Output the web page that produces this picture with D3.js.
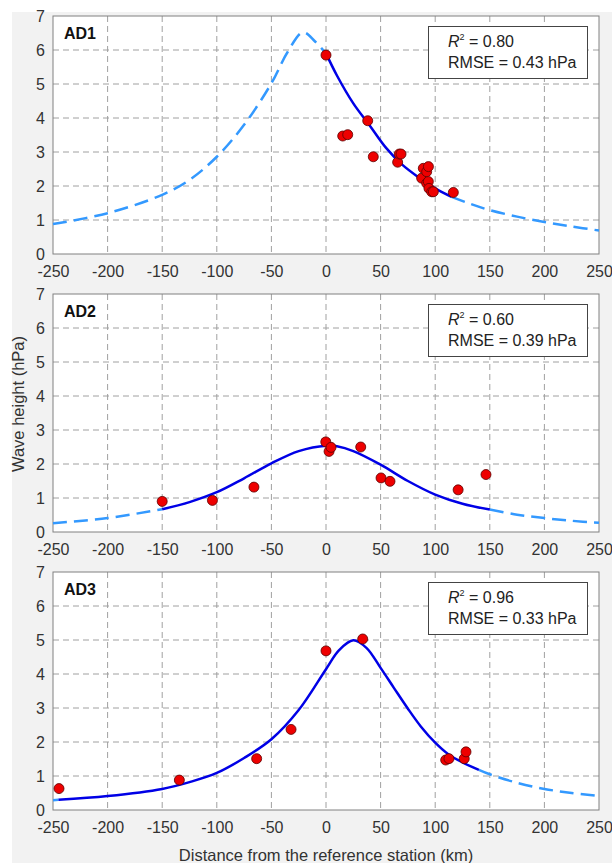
<!DOCTYPE html>
<html>
<head>
<meta charset="utf-8">
<script src="https://cdn.jsdelivr.net/npm/d3@7"></script>
<style>
  body { margin: 0; background: #fff; }
  text { font-family: "Liberation Sans", Arial, sans-serif; }
</style>
</head>
<body>
<div id="chart"></div>
<script>
// Panel names and fit stats
const panels = ['AD1', 'AD2', 'AD3']
const r2Values = ['0.80', '0.60', '0.96']
const rmseValues = ['0.43', '0.39', '0.33']

// Tick labels
const xTicks = [-250, -200, -150, -100, -50, 0, 50, 100, 150, 200, 250]
const yTicks = [0, 1, 2, 3, 4, 5, 6, 7]

// Observed points (distance km, wave height hPa)
const pointsAD1 = [
  [0, 5.85], [15.3, 3.47], [19.9, 3.51], [38.2, 3.92], [43.3, 2.86],
  [65.6, 2.70], [67.1, 2.94], [68.7, 2.94], [87.6, 2.23], [89.1, 2.52],
  [92.2, 2.08], [92.2, 2.42], [93.8, 2.57], [93.7, 2.13], [94.3, 1.93],
  [96.8, 1.83], [98.3, 1.83], [116.6, 1.81]
]
const pointsAD2 = [
  [-150, 0.90], [-104, 0.93], [-66, 1.32], [-0.2, 2.65], [2.8, 2.37],
  [4.6, 2.49], [31.8, 2.50], [50.4, 1.59], [58.6, 1.49], [121, 1.24],
  [146.5, 1.69]
]
const pointsAD3 = [
  [-244.5, 0.63], [-134.3, 0.88], [-63.5, 1.51], [-32, 2.37], [0, 4.68],
  [33.6, 5.03], [109.6, 1.47], [112.6, 1.51], [126.6, 1.51], [128.2, 1.71]
]

// Fitted curves
const curveAD1 = [
  [-250, 0.88], [-200, 1.20], [-150, 1.74], [-125, 2.18], [-100, 2.86],
  [-75, 3.80], [-50, 5.02], [-35, 5.95], [-21, 6.52], [-10, 6.25],
  [0, 5.90], [10, 5.25], [25, 4.43], [40, 3.78], [55, 3.12], [70, 2.62],
  [85, 2.25], [100, 1.93], [115, 1.68], [130, 1.50], [150, 1.29],
  [175, 1.10], [200, 0.94], [225, 0.81], [250, 0.69]
]
const curveAD2 = [
  [-250, 0.26], [-200, 0.41], [-150, 0.67], [-125, 0.88], [-100, 1.17],
  [-75, 1.58], [-50, 2.02], [-25, 2.38], [0, 2.54], [10, 2.52],
  [25, 2.38], [50, 1.98], [75, 1.50], [100, 1.10], [125, 0.83],
  [150, 0.66], [175, 0.51], [200, 0.41], [225, 0.33], [250, 0.27]
]
const curveAD3 = [
  [-250, 0.29], [-245, 0.30], [-200, 0.41], [-150, 0.62], [-125, 0.82],
  [-100, 1.09], [-75, 1.53], [-50, 2.08], [-25, 2.94], [0, 4.14],
  [12, 4.70], [25, 4.99], [37, 4.77], [50, 4.18], [62, 3.60], [75, 2.98],
  [87, 2.45], [100, 1.98], [112, 1.64], [125, 1.40], [140, 1.18],
  [150, 1.05], [175, 0.80], [200, 0.62], [225, 0.50], [250, 0.41]
]

// Range of distance where the fit is drawn solid
const solidRanges = [[0, 115], [-150, 150], [-245, 140]]

const pointSets = [pointsAD1, pointsAD2, pointsAD3]
const curveSets = [curveAD1, curveAD2, curveAD3]

// Layout
const W = 612
const H = 863
const plotLeft = 53
const plotRight = 599
const plotH = 238
const panelTops = [16, 294, 572]

const svg = d3.select('#chart')
  .append('svg')
  .attr('width', W)
  .attr('height', H)

// Figure background
svg.append('rect')
  .attr('x', 12).attr('y', 12)
  .attr('width', W - 12).attr('height', H - 12)
  .attr('fill', '#f2f2f2')

const x = d3.scaleLinear().domain([-250, 250]).range([plotLeft, plotRight])

const line = d3.line()
  .x(d => x(d[0]))
  .curve(d3.curveCatmullRom.alpha(0.5))

panels.forEach((name, i) => {
  const top = panelTops[i]
  const y = d3.scaleLinear().domain([0, 7]).range([top + plotH, top])
  line.y(d => y(d[1]))

  const g = svg.append('g')

  // Plot area
  g.append('rect')
    .attr('x', plotLeft).attr('y', top)
    .attr('width', plotRight - plotLeft).attr('height', plotH)
    .attr('fill', '#fff')

  // Grid
  g.selectAll('.vgrid')
    .data(xTicks.slice(1, -1))
    .enter().append('line')
    .attr('x1', d => x(d)).attr('x2', d => x(d))
    .attr('y1', top).attr('y2', top + plotH)
    .attr('stroke', '#a0a0a0')
    .attr('stroke-dasharray', '6,4')
  g.selectAll('.hgrid')
    .data(yTicks.slice(1, -1))
    .enter().append('line')
    .attr('x1', plotLeft).attr('x2', plotRight)
    .attr('y1', d => y(d)).attr('y2', d => y(d))
    .attr('stroke', '#a0a0a0')
    .attr('stroke-dasharray', '6,4')

  // Box
  g.append('rect')
    .attr('x', plotLeft).attr('y', top)
    .attr('width', plotRight - plotLeft).attr('height', plotH)
    .attr('fill', 'none')
    .attr('stroke', '#808080')

  // Axes
  const xAxis = g.append('g')
    .attr('transform', `translate(0,${top + plotH})`)
    .call(d3.axisBottom(x).tickValues(xTicks).tickFormat(d => String(d))
      .tickSize(0).tickPadding(12))
  const yAxis = g.append('g')
    .attr('transform', `translate(${plotLeft},0)`)
    .call(d3.axisLeft(y).tickValues(yTicks).tickFormat(d => String(d))
      .tickSize(0).tickPadding(8))
  ;[xAxis, yAxis].forEach(a => {
    a.select('.domain').remove()
    a.selectAll('text')
      .attr('fill', '#333')
      .style('font-size', '16px')
      .style('font-family', '"Liberation Sans", Arial, sans-serif')
  })

  // Fitted curve: dashed outside the solid range, solid inside
  const data = curveSets[i]
  const [s0, s1] = solidRanges[i]
  const left = data.filter(d => d[0] <= s0)
  const mid = data.filter(d => d[0] >= s0 && d[0] <= s1)
  const right = data.filter(d => d[0] >= s1)
  ;[left, right].forEach(seg => {
    if (seg.length < 2) return
    g.append('path')
      .attr('d', line(seg))
      .attr('fill', 'none')
      .attr('stroke', '#3399ff')
      .attr('stroke-width', 2.5)
      .attr('stroke-dasharray', '14,7')
  })
  g.append('path')
    .attr('d', line(mid))
    .attr('fill', 'none')
    .attr('stroke', '#0000e6')
    .attr('stroke-width', 2.5)

  // Observations
  g.selectAll('.pt')
    .data(pointSets[i])
    .enter().append('circle')
    .attr('cx', d => x(d[0]))
    .attr('cy', d => y(d[1]))
    .attr('r', 5)
    .attr('fill', '#ee0000')
    .attr('stroke', '#5a0000')
    .attr('stroke-width', 0.8)

  // Panel label
  g.append('text')
    .attr('x', 64).attr('y', top + 23)
    .attr('font-weight', 'bold')
    .attr('font-size', 16)
    .attr('fill', '#111')
    .text(name)

  // Stats box
  g.append('rect')
    .attr('x', 428.5).attr('y', top + 10.5)
    .attr('width', 159).attr('height', 52)
    .attr('fill', '#fff')
    .attr('stroke', '#444')
  const r2 = g.append('text')
    .attr('x', 448).attr('y', top + 31)
    .attr('font-size', 16)
    .attr('fill', '#222')
  r2.append('tspan').attr('font-style', 'italic').text('R')
  r2.append('tspan').attr('font-size', 9).attr('dy', -7).text('2')
  r2.append('tspan').attr('dy', 7).text(' = ' + r2Values[i])
  g.append('text')
    .attr('x', 448).attr('y', top + 52)
    .attr('font-size', 16)
    .attr('fill', '#222')
    .text('RMSE = ' + rmseValues[i] + ' hPa')
})

// Axis titles
svg.append('text')
  .attr('x', 326)
  .attr('y', 861)
  .attr('text-anchor', 'middle')
  .attr('font-size', 16.5)
  .attr('fill', '#333')
  .text('Distance from the reference station (km)')

svg.append('text')
  .attr('transform', 'translate(24,404) rotate(-90)')
  .attr('text-anchor', 'middle')
  .attr('font-size', 16.5)
  .attr('fill', '#333')
  .text('Wave height (hPa)')
</script>
</body>
</html>
